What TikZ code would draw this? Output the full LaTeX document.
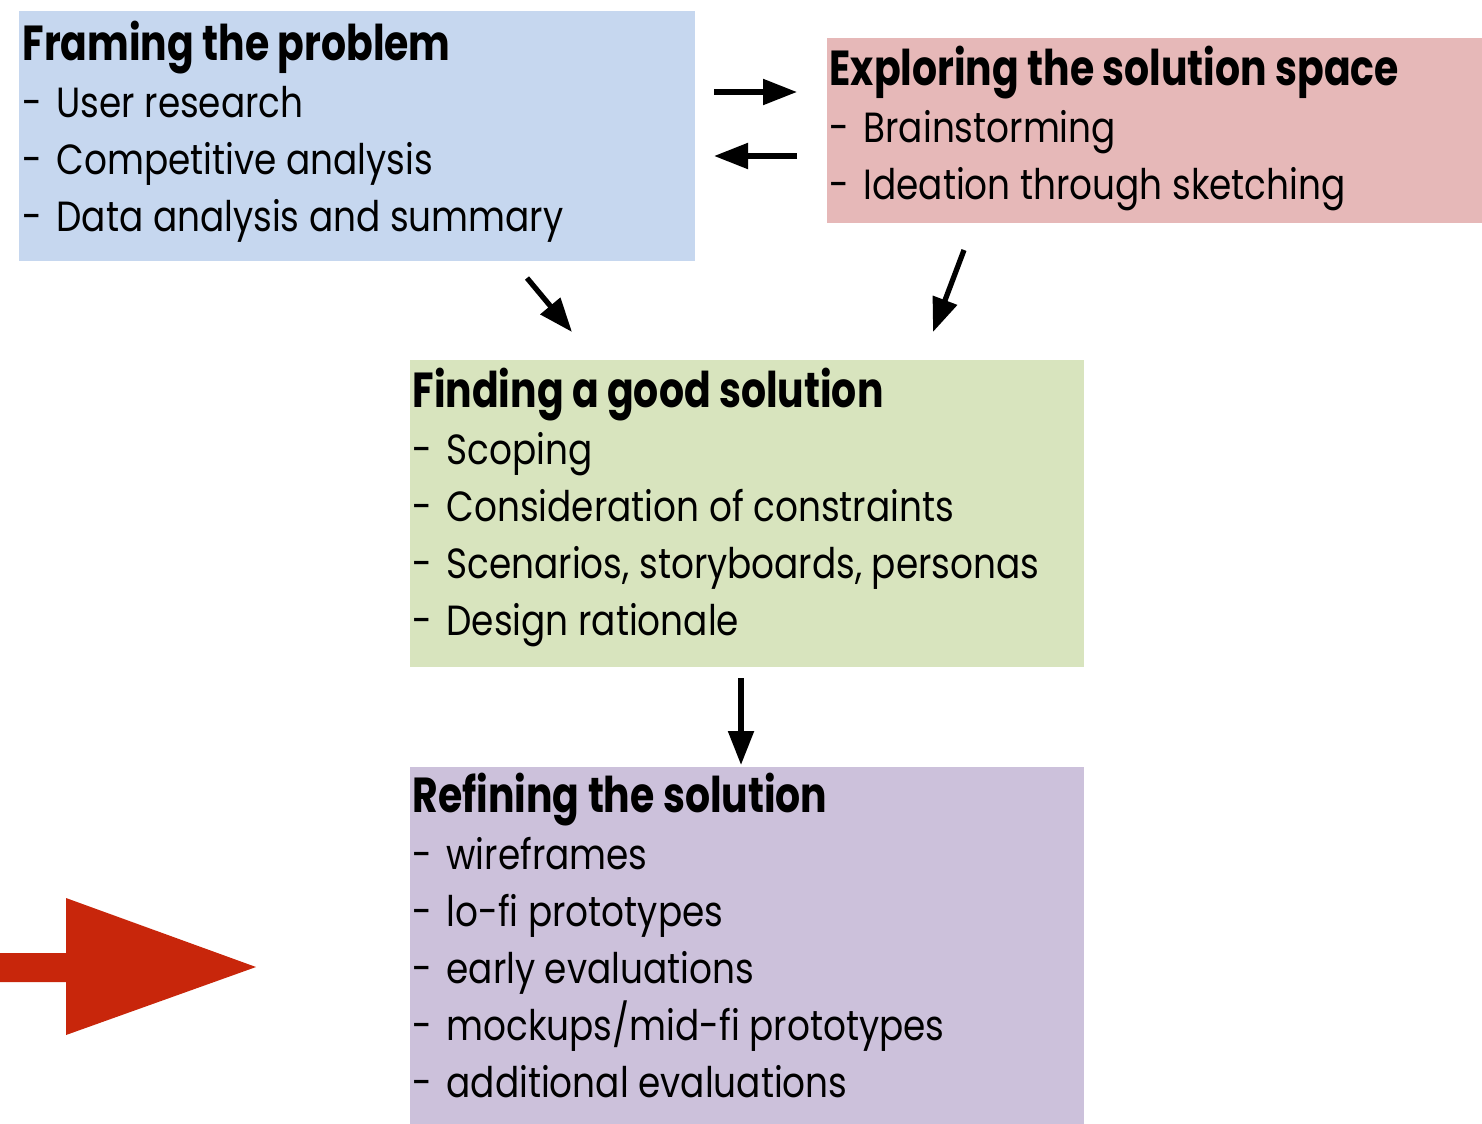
\documentclass[tikz,border=0pt]{standalone}
\usepackage{xcolor}
\usepackage{fontspec}
\setmainfont{Poppins}
\usepackage{tikz}
\usetikzlibrary{arrows.meta}
\usetikzlibrary{positioning}

\definecolor{frameblue}{HTML}{C6D7EF}
\definecolor{explorered}{HTML}{E6B8B8}
\definecolor{findgreen}{HTML}{D8E4BE}
\definecolor{refinepurple}{HTML}{CCC1DB}
\definecolor{bigred}{HTML}{C8260B}

\newcommand{\dash}[1]{\makebox[0.40cm][l]{-}#1}

\tikzset{
  box/.style={rectangle, draw=none, inner sep=0pt, anchor=north west},
  head/.style={anchor=base west, inner sep=0pt, xscale=0.80,
    font=\fontsize{14}{16}\selectfont\bfseries},
  entry/.style={anchor=base west, inner sep=0pt, xscale=0.85,
    font=\fontsize{12}{16}\selectfont},
  arr/.style={-{Triangle[length=0.34cm,width=0.25cm]}, line width=1.5pt, draw=black}
}

\begin{document}
\begin{tikzpicture}
 \useasboundingbox (0,0) rectangle (14.82,-11.23);

 % the four coloured boxes
 \node [box, fill=frameblue, minimum width=6.76cm, minimum height=2.50cm] (frame) at (0.18,-0.10) {};
 \node [box, fill=explorered, minimum width=6.56cm, minimum height=1.85cm] (explore) at (8.26,-0.37) {};
 \node [box, fill=findgreen, minimum width=6.74cm, minimum height=3.07cm] (find) at (4.09,-3.59) {};
 \node [box, fill=refinepurple, minimum width=6.74cm, minimum height=3.57cm] (refine) at (4.09,-7.66) {};

 % titles and lists
 \node [head] (frame-t) at (0.22,-0.60) {Framing the problem};
 \foreach \t [count=\i] in {User research, Competitive analysis, Data analysis and summary}
   \node [entry] (frame-\i) at (0.22,{-0.60-0.57*\i}) {\dash{\t}};

 \node [head] (explore-t) at (8.29,-0.85) {Exploring the solution space};
 \foreach \t [count=\i] in {Brainstorming, Ideation through sketching}
   \node [entry] (explore-\i) at (8.29,{-0.85-0.57*\i}) {\dash{\t}};

 \node [head] (find-t) at (4.12,-4.07) {Finding a good solution};
 \foreach \t [count=\i] in {Scoping, Consideration of constraints, {Scenarios, storyboards, personas}, Design rationale}
   \node [entry] (find-\i) at (4.12,{-4.07-0.57*\i}) {\dash{\t}};

 \node [head] (refine-t) at (4.12,-8.12) {Refining the solution};
 \foreach \t [count=\i] in {wireframes, lo-fi prototypes, early evaluations, mockups/mid-fi prototypes, additional evaluations}
   \node [entry] (refine-\i) at (4.12,{-8.12-0.57*\i}) {\dash{\t}};

 % arrow ends
 \coordinate (fe1) at (7.14,-0.92);
 \coordinate (ee1) at (7.97,-0.92);
 \coordinate (ee2) at (7.97,-1.56);
 \coordinate (fe2) at (7.14,-1.56);
 \coordinate (fd) at (5.27,-2.78);
 \coordinate (ga) at (5.72,-3.32);
 \coordinate (ed) at (9.64,-2.50);
 \coordinate (gb) at (9.33,-3.32);
 \coordinate (gd) at (7.41,-6.78);
 \coordinate (ra) at (7.41,-7.65);

 \draw [arr] (fe1) to (ee1);
 \draw [arr] (ee2) to (fe2);
 \draw [arr] (fd) to (ga);
 \draw [arr] (ed) to (gb);
 \draw [arr] (gd) to (ra);

 % big red block arrow
 \fill [bigred] (0,-9.53) -- (0.66,-9.53) -- (0.66,-8.98) -- (2.56,-9.67)
   -- (0.66,-10.35) -- (0.66,-9.82) -- (0,-9.82) -- cycle;
\end{tikzpicture}
\end{document}
